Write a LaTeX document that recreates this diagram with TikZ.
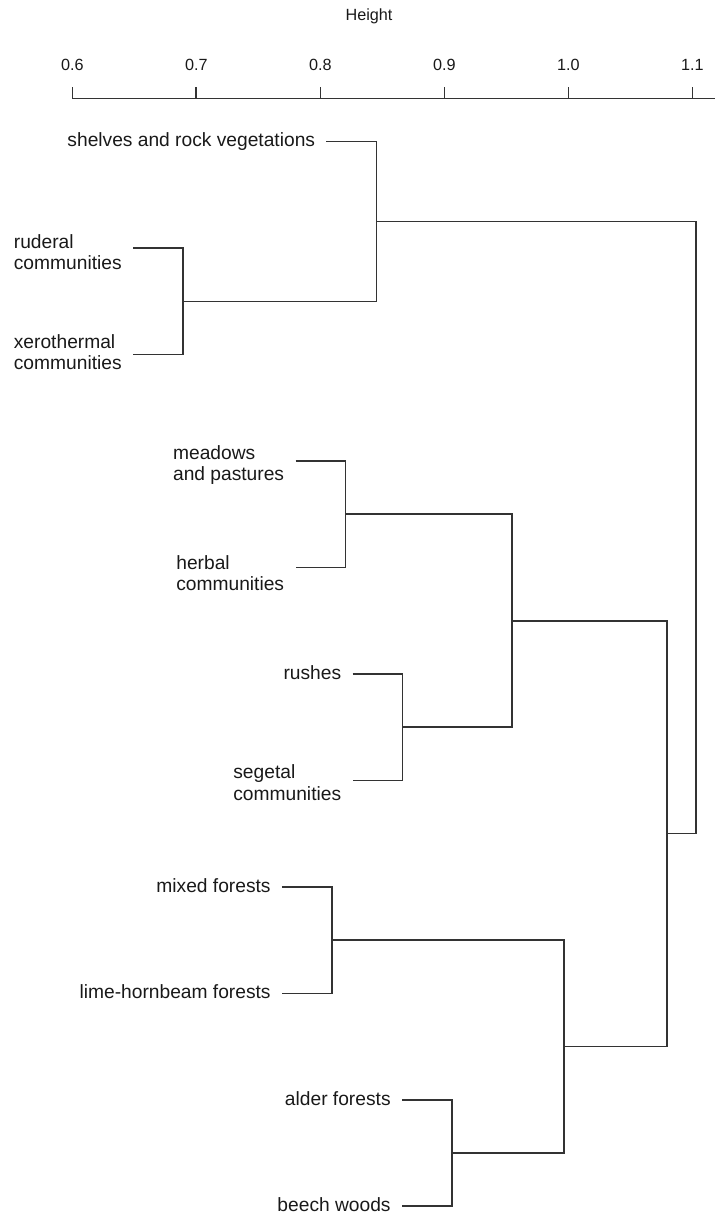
\documentclass[tikz,border=0pt]{standalone}
\usepackage{fontspec}
\setmainfont{Liberation Sans}
\newcommand\leaffont{\fontsize{9.6}{10.6}\selectfont}
\newcommand\axisfont{\fontsize{8.1}{9.7}\selectfont}

\begin{document}
\begin{tikzpicture}[x=620pt,y=-53.225pt,
  branch/.style={draw=black!80,line width=0.8pt},
  leaf/.style={anchor=mid east,inner sep=0pt,xshift=-5.5pt,font=\leaffont,text=black!90},
  leaftwo/.style={anchor=north east,align=left,inner sep=0pt,xshift=-5.5pt,yshift=7.9pt,font=\leaffont,text=black!90}]
  \useasboundingbox (0.5417,-1.3311) rectangle (1.1183,10.0920);

  \node[anchor=base,font=\axisfont,text=black!90] (height) at (0.8393,-1.1339) {Height};
  \draw[branch] (0.6,-0.4058) -- (1.1183,-0.4058);
  \foreach \h [count=\i] in {0.6,0.7,0.8,0.9,1.0,1.1}{
    \draw[branch] (\h,-0.4058) -- (\h,-0.5167);
    \node[anchor=base,font=\axisfont,text=black!90,inner sep=0pt] (tick\i) at (\h,-0.667) {\h};
  }

  \coordinate (rx) at (0.6893,1.5);
  \coordinate (srx) at (0.8453,0.75);
  \coordinate (mh) at (0.8203,3.5);
  \coordinate (rs) at (0.8663,5.5);
  \coordinate (grass) at (0.9546,4.5);
  \coordinate (ml) at (0.8094,7.5);
  \coordinate (ab) at (0.9062,9.5);
  \coordinate (forest) at (0.9965,8.5);
  \coordinate (gf) at (1.0796,6.5);
  \coordinate (root) at (1.1030,3.625);

  \coordinate (t0) at (0.8050,0);
  \coordinate (t1) at (0.6490,1);
  \coordinate (t2) at (0.6490,2);
  \coordinate (t3) at (0.7800,3);
  \coordinate (t4) at (0.7800,4);
  \coordinate (t5) at (0.8260,5);
  \coordinate (t6) at (0.8260,6);
  \coordinate (t7) at (0.7691,7);
  \coordinate (t8) at (0.7691,8);
  \coordinate (t9) at (0.8659,9);
  \coordinate (t10) at (0.8659,10);

  \node[leaf] (shelves) at (t0) {shelves and rock vegetations};
  \node[leaftwo,yshift=-1pt] (ruderal) at (t1) {ruderal\\communities};
  \node[leaftwo,yshift=2.35pt] (xero) at (t2) {xerothermal\\communities};
  \node[leaftwo] (meadows) at (t3) {meadows\\and pastures};
  \node[leaftwo,yshift=-1.5pt] (herbal) at (t4) {herbal\\communities};
  \node[leaf] (rushes) at (t5) {rushes};
  \node[leaftwo] (segetal) at (t6) {segetal\\communities};
  \node[leaf] (mixed) at (t7) {mixed forests};
  \node[leaf] (lime) at (t8) {lime-hornbeam forests};
  \node[leaf] (alder) at (t9) {alder forests};
  \node[leaf] (beech) at (t10) {beech woods};

  \draw[branch] (t1) -| (rx) |- (t2);
  \draw[branch] (t0) -| (srx) |- (rx);
  \draw[branch] (t3) -| (mh) |- (t4);
  \draw[branch] (t5) -| (rs) |- (t6);
  \draw[branch] (mh) -| (grass) |- (rs);
  \draw[branch] (t7) -| (ml) |- (t8);
  \draw[branch] (t9) -| (ab) |- (t10);
  \draw[branch] (ml) -| (forest) |- (ab);
  \draw[branch] (grass) -| (gf) |- (forest);
  \draw[branch] (srx) -| (root) |- (gf);
\end{tikzpicture}
\end{document}
